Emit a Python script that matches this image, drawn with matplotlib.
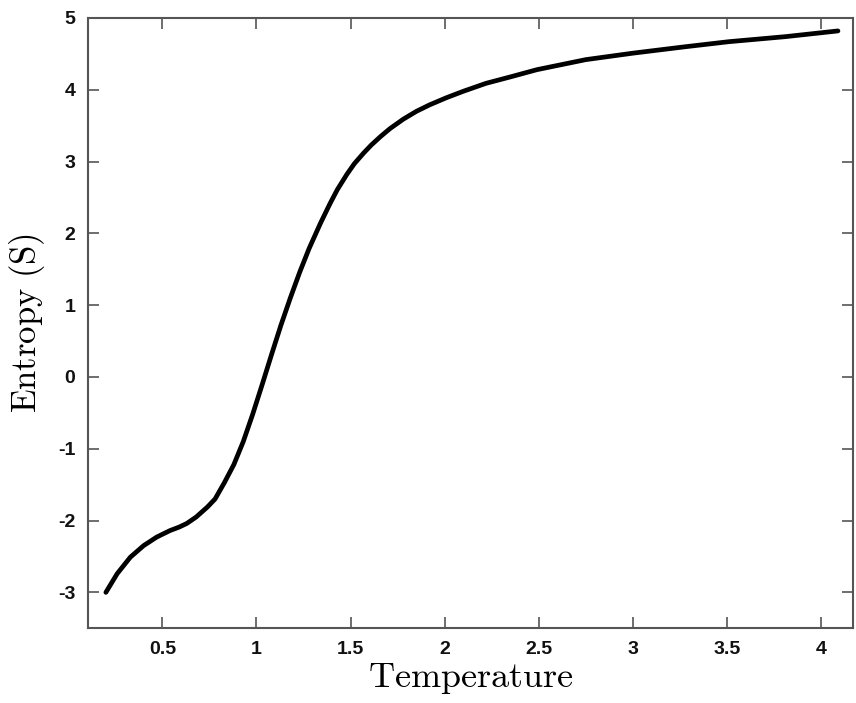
import numpy as np
import matplotlib
matplotlib.use('Agg')
import matplotlib.pyplot as plt

plt.rcParams['mathtext.fontset'] = 'cm'

# Entropy vs temperature
temperature = [0.20, 0.26, 0.33, 0.40, 0.47, 0.54, 0.59, 0.63, 0.68, 0.74,
               0.78, 0.83, 0.88, 0.93, 0.98, 1.03, 1.08, 1.13, 1.18, 1.23,
               1.28, 1.34, 1.39, 1.43, 1.48, 1.52, 1.57, 1.61, 1.66, 1.71,
               1.78, 1.85, 1.92, 2.01, 2.10, 2.22, 2.35, 2.49, 2.75, 3.00,
               3.28, 3.51, 3.81, 4.09]
entropy = [-3.00, -2.74, -2.51, -2.35, -2.23, -2.14, -2.09, -2.04, -1.95, -1.81,
           -1.70, -1.47, -1.22, -0.90, -0.52, -0.11, 0.31, 0.72, 1.10, 1.46,
           1.79, 2.14, 2.41, 2.61, 2.82, 2.97, 3.12, 3.23, 3.35, 3.46,
           3.59, 3.70, 3.79, 3.89, 3.98, 4.09, 4.18, 4.28, 4.42, 4.51,
           4.60, 4.67, 4.74, 4.82]

x_ticks = [0.5, 1, 1.5, 2, 2.5, 3, 3.5, 4]
x_tick_labels = ['0.5', '1', '1.5', '2', '2.5', '3', '3.5', '4']
y_ticks = [-3, -2, -1, 0, 1, 2, 3, 4, 5]
y_tick_labels = ['-3', '-2', '-1', '0', '1', '2', '3', '4', '5']

fig = plt.figure(figsize=(8.56, 7.03), dpi=100)
ax = fig.add_axes([0.1028, 0.1063, 0.8937, 0.8681])

ax.plot(temperature, entropy, color='black', linewidth=3.4,
        solid_capstyle='round', solid_joinstyle='round')

ax.set_xlim(0.105, 4.17)
ax.set_ylim(-3.5, 5)
ax.set_xticks(x_ticks)
ax.set_xticklabels(x_tick_labels)
ax.set_yticks(y_ticks)
ax.set_yticklabels(y_tick_labels)

for spine in ax.spines.values():
    spine.set_color('#555555')
    spine.set_linewidth(1.5)

ax.tick_params(direction='in', length=8, width=1.2, color='#555555',
               top=True, right=True, pad=9)
for lab in ax.get_xticklabels() + ax.get_yticklabels():
    lab.set_family('Liberation Sans')
    lab.set_fontweight('bold')
    lab.set_fontsize(14)
    lab.set_color('#111111')

ax.set_xlabel(r'$\mathrm{Temperature}$', fontsize=26, labelpad=2)
ax.set_ylabel(r'$\mathrm{Entropy\ (S)}$', fontsize=25, labelpad=8)

fig.savefig('out.png', dpi=100)
